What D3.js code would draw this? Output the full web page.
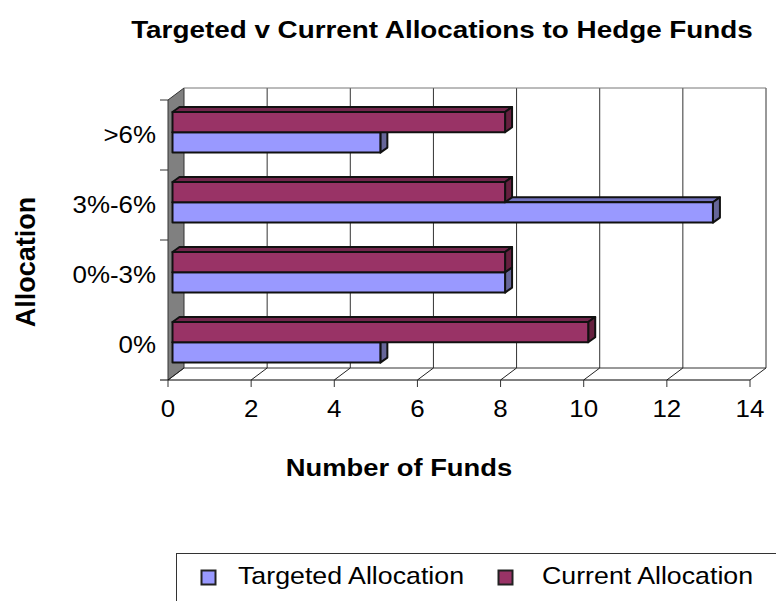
<!DOCTYPE html>
<html>
<head>
<meta charset="utf-8">
<script src="https://cdnjs.cloudflare.com/ajax/libs/d3/7.8.5/d3.min.js"></script>
<style>
  html, body { margin: 0; padding: 0; background: #fff; }
  svg { display: block; }
  text { font-family: "Liberation Sans", Arial, sans-serif; fill: #000; }
</style>
</head>
<body>
<svg id="chart" width="776" height="601"></svg>
<script>
  const categories = ['>6%', '3%-6%', '0%-3%', '0%'];
  const targeted = [5, 13, 8, 5];
  const current = [8, 8, 8, 10];
  const xTicks = [0, 2, 4, 6, 8, 10, 12, 14];
  const seriesNames = ['Targeted Allocation', 'Current Allocation'];
  const seriesColors = ['#9999ff', '#993366'];
  const sideColors = ['#666699', '#66203f'];
  const topColors = ['#7373bf', '#73264c'];

  const svg = d3.select('#chart');

  // 3d box of the plot
  const wallDx = 16, wallDy = -12;
  const barDx = 7, barDy = -5;

  const x = d3.scaleLinear().domain([0, 14]).range([168, 750]);
  const y = d3.scaleBand().domain(categories).range([100, 380]);

  const floorY = y.range()[1], topY = y.range()[0];
  const x0 = x(0), x1 = x(14);

  // the original picture was stretched sideways, so text gets a horizontal scale
  function label(px, py, str, size, sx, anchor, bold){
    return svg.append('text')
        .attr('transform', `translate(${px},${py}) scale(${sx},1)`)
        .attr('text-anchor', anchor)
        .attr('font-size', size)
        .attr('font-weight', bold ? 'bold' : 'normal')
        .text(str);
  }

  // left wall
  svg.append('polygon')
      .attr('points', [[x0, topY], [x0 + wallDx, topY + wallDy], [x0 + wallDx, floorY + wallDy], [x0, floorY]].join(' '))
      .attr('fill', '#808080')
      .attr('stroke', '#333')
      .attr('stroke-width', 1);

  // back wall gridlines
  svg.append('g').selectAll('line')
    .data(xTicks.slice(1))
    .enter().append('line')
      .attr('x1', d => x(d) + wallDx)
      .attr('x2', d => x(d) + wallDx)
      .attr('y1', topY + wallDy)
      .attr('y2', floorY + wallDy)
      .attr('stroke', '#333');

  svg.append('line')
      .attr('x1', x0 + wallDx).attr('x2', x1 + wallDx)
      .attr('y1', topY + wallDy).attr('y2', topY + wallDy)
      .attr('stroke', '#777');

  svg.append('line')
      .attr('x1', x0 + wallDx).attr('x2', x1 + wallDx)
      .attr('y1', floorY + wallDy).attr('y2', floorY + wallDy)
      .attr('stroke', '#333');

  // floor diagonals
  svg.append('g').selectAll('line')
    .data(xTicks)
    .enter().append('line')
      .attr('x1', d => x(d))
      .attr('x2', d => x(d) + wallDx)
      .attr('y1', floorY)
      .attr('y2', floorY + wallDy)
      .attr('stroke', '#222');

  // front floor line and ticks
  svg.append('line')
      .attr('x1', x0 - 8).attr('x2', x1)
      .attr('y1', floorY).attr('y2', floorY)
      .attr('stroke', '#000');

  svg.append('g').selectAll('line')
    .data(xTicks)
    .enter().append('line')
      .attr('x1', d => x(d)).attr('x2', d => x(d))
      .attr('y1', floorY).attr('y2', floorY + 7)
      .attr('stroke', '#333');

  svg.append('g').selectAll('line')
    .data(categories.slice(0, 3))
    .enter().append('line')
      .attr('x1', x0 - 8).attr('x2', x0)
      .attr('y1', d => y(d)).attr('y2', d => y(d))
      .attr('stroke', '#333');

  xTicks.forEach(d => label(x(d), 416.5, d, 24, 1.08, 'middle'));
  categories.forEach(d => label(156, y(d) + y.bandwidth() / 2 + 8, d, 24, 1.08, 'end'));

  // bars, targeted first so current sits on top of it
  const barLeft = 4.5, barHeight = 20.3;
  const barY = (cat, s) => y(cat) + 12 + (s === 1 ? 0 : barHeight);

  function drawBars(values, s){
    const g = svg.append('g')
        .attr('stroke', '#111')
        .attr('stroke-width', 2)
        .attr('stroke-linejoin', 'round');
    categories.forEach((cat, i) => {
      const l = x0 + barLeft, r = x(values[i]) + barLeft, t = barY(cat, s), b = t + barHeight;
      g.append('polygon')
          .attr('points', [[l, t], [l + barDx, t + barDy], [r + barDx, t + barDy], [r, t]].join(' '))
          .attr('fill', topColors[s]);
      g.append('polygon')
          .attr('points', [[r, t], [r + barDx, t + barDy], [r + barDx, b + barDy], [r, b]].join(' '))
          .attr('fill', sideColors[s]);
      g.append('rect')
          .attr('x', l).attr('y', t)
          .attr('width', r - l).attr('height', barHeight)
          .attr('fill', seriesColors[s]);
    });
  }
  drawBars(targeted, 0);
  drawBars(current, 1);

  // titles
  label(442, 38, 'Targeted v Current Allocations to Hedge Funds', 24, 1.16, 'middle', true);
  label(399, 476, 'Number of Funds', 24, 1.14, 'middle', true);

  svg.append('text')
      .attr('transform', 'translate(35,262) rotate(-90)')
      .attr('text-anchor', 'middle')
      .attr('font-size', 27)
      .attr('font-weight', 'bold')
      .text('Allocation');

  // legend, runs off the right and bottom of the picture
  svg.append('rect')
      .attr('x', 176.5).attr('y', 553.5)
      .attr('width', 640).attr('height', 100)
      .attr('fill', 'none')
      .attr('stroke', '#333');

  const legendSwatchX = [201, 498], legendTextX = [238, 542];
  seriesNames.forEach((name, i) => {
    svg.append('rect')
        .attr('x', legendSwatchX[i] + 0.5).attr('y', 570.5)
        .attr('width', 14).attr('height', 14)
        .attr('fill', seriesColors[i])
        .attr('stroke', '#222')
        .attr('stroke-width', 2);
    label(legendTextX[i], 584, name, 24, 1.115, 'start');
  });
</script>
</body>
</html>
